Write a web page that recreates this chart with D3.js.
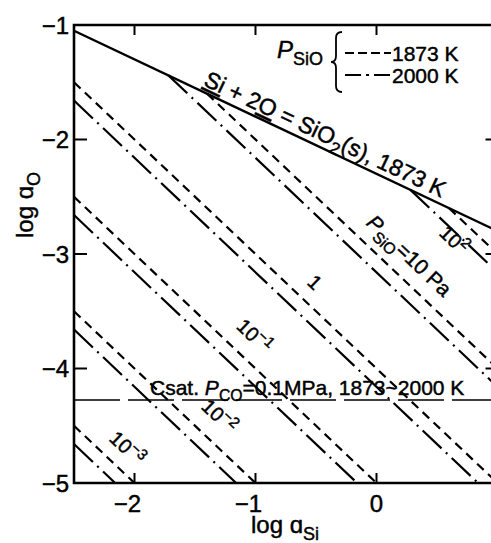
<!DOCTYPE html>
<html>
<head>
<meta charset="utf-8">
<script src="https://cdn.jsdelivr.net/npm/d3@7"></script>
<style>
body { margin: 0; background: #fff; }
svg { display: block; }
text { font-family: "Liberation Sans", Arial, sans-serif; fill: #000; stroke: #000; stroke-width: 0.45px; }
</style>
</head>
<body>
<div id="chart"></div>
<script>
// log P_SiO (Pa) for each pair of lines, and the intercept of log aO + log aSi
var logPSiO = [2, 1, 0, -1, -2, -3];
var c1873 = [-2, -3, -4, -5, -6, -7];
var c2000 = [-2.16, -3.16, -4.16, -5.16, -6.16, -7.16];
// where each line label sits (log aSi) and how far off the 1873 K line (in log units)
var labelAt = [0.6, 0.23, -0.55, -1.05, -1.34, -2.1];
var labelShift = [-0.32, 0.17, 0.16, 0.19, 0.2, 0.16];

// SiO2(s) saturation line, 1873 K
var sio2X = [-2.5, 1.0];
var sio2Y = [-1.05, -2.8];

// carbon saturation, P_CO = 0.1 MPa
var csatY = -4.275;

var xTicks = [-2, -1, 0];
var yTicks = [-1, -2, -3, -4, -5];

var width = 491,
    height = 543;

var svg = d3.select("#chart").append("svg")
    .attr("width", width)
    .attr("height", height);

var x = d3.scaleLinear().domain([-2.5, 1.0]).range([74, 497.5]);
var y = d3.scaleLinear().domain([-5, -1]).range([483, 25]);

// clip the lines to the frame
svg.append("clipPath").attr("id", "plot")
    .append("rect")
    .attr("x", x(-2.5)).attr("y", y(-1))
    .attr("width", x(1.0) - x(-2.5)).attr("height", y(-5) - y(-1));

var line = d3.line()
    .x(function (d) { return x(d[0]); })
    .y(function (d) { return y(d[1]); });

// y of the SiO2 line at a given log aSi
var sio2Slope = (sio2Y[1] - sio2Y[0]) / (sio2X[1] - sio2X[0]);
function sio2At(v) { return sio2Y[0] + sio2Slope * (v - sio2X[0]); }

// a P_SiO line: log aO = c - log aSi, starting on the SiO2 line or the left axis
function pLine(c) {
    var xi = (c - sio2Y[0] + sio2Slope * sio2X[0]) / (1 + sio2Slope);
    var x0 = Math.max(-2.5, xi);
    var x1 = Math.min(1.0, c + 5);
    return [[x0, c - x0], [x1, c - x1]];
}

var g = svg.append("g").attr("clip-path", "url(#plot)");

g.selectAll(".l1873")
    .data(c1873)
    .enter().append("path")
    .attr("class", "l1873")
    .attr("d", function (c) { return line(pLine(c)); })
    .attr("fill", "none")
    .attr("stroke", "#000")
    .attr("stroke-width", 2.2)
    .attr("stroke-dasharray", "9,6");

g.selectAll(".l2000")
    .data(c2000)
    .enter().append("path")
    .attr("class", "l2000")
    .attr("d", function (c) { return line(pLine(c)); })
    .attr("fill", "none")
    .attr("stroke", "#000")
    .attr("stroke-width", 2.2)
    .attr("stroke-dasharray", "26,6,2,6");

// SiO2 saturation
g.append("path")
    .attr("d", line([[sio2X[0], sio2Y[0]], [sio2X[1], sio2Y[1]]]))
    .attr("fill", "none")
    .attr("stroke", "#000")
    .attr("stroke-width", 2.4);

// carbon saturation
g.append("path")
    .attr("d", line([[-2.5, csatY], [1.0, csatY]]))
    .attr("fill", "none")
    .attr("stroke", "#000")
    .attr("stroke-width", 1.6)
    .attr("stroke-dasharray", "46,8");

// frame
var frame = svg.append("g")
    .attr("fill", "none")
    .attr("stroke", "#000")
    .attr("stroke-width", 2.6);
frame.append("path")
    .attr("d", "M" + x(1.0) + "," + y(-1) + "H" + x(-2.5) + "V" + y(-5) + "H" + x(1.0) + "V" + y(-1));

// inward ticks
xTicks.forEach(function (t) {
    frame.append("line").attr("x1", x(t)).attr("x2", x(t)).attr("y1", y(-1)).attr("y2", y(-1) + 10).attr("stroke-width", 2);
    frame.append("line").attr("x1", x(t)).attr("x2", x(t)).attr("y1", y(-5)).attr("y2", y(-5) - 10).attr("stroke-width", 2);
});
yTicks.slice(1, 4).forEach(function (t) {
    frame.append("line").attr("x1", x(-2.5)).attr("x2", x(-2.5) + 13).attr("y1", y(t)).attr("y2", y(t)).attr("stroke-width", 2);
    frame.append("line").attr("x1", x(1.0)).attr("x2", x(1.0) - 12).attr("y1", y(t)).attr("y2", y(t)).attr("stroke-width", 2);
});

// tick labels
svg.selectAll(".ylab")
    .data(yTicks)
    .enter().append("text")
    .attr("class", "ylab")
    .attr("x", 69)
    .attr("y", function (d) { return y(d); })
    .attr("dy", "0.36em")
    .attr("text-anchor", "end")
    .style("font-size", "24px")
    .text(function (d) { return "\u2212" + Math.abs(d); });

svg.selectAll(".xlab")
    .data(xTicks)
    .enter().append("text")
    .attr("class", "xlab")
    .attr("x", function (d) { return x(d) + (d < 0 ? -7 : 0); })
    .attr("y", 512)
    .attr("text-anchor", "middle")
    .style("font-size", "24px")
    .text(function (d) { return d < 0 ? "\u2212" + Math.abs(d) : d; });

// rich text helper: parts with optional italic / sub / sup / underline
function rich(sel, parts, size) {
    var shift = 0;
    parts.forEach(function (p) {
        var ts = sel.append("tspan").text(p.t);
        var target = p.sub ? size * 0.3 : (p.sup ? -size * 0.4 : 0);
        ts.attr("dy", target - shift);
        shift = target;
        ts.style("font-size", ((p.sub || p.sup) ? size * 0.75 : size) + "px");
        if (p.i) ts.style("font-style", "italic");
        if (p.u) ts.style("text-decoration", "underline");
    });
}

// axis titles
var yt = svg.append("text")
    .attr("transform", "translate(33,205) rotate(-90)")
    .attr("text-anchor", "middle");
rich(yt, [{t: "log \u0251"}, {t: "O", sub: true}], 24);

var xt = svg.append("text")
    .attr("x", 285).attr("y", 533)
    .attr("text-anchor", "middle");
rich(xt, [{t: "log \u0251"}, {t: "Si", sub: true}], 24);

// SiO2 label along its line
var sx = x.invert(200);
var ang = Math.atan2(y(sio2Y[1]) - y(sio2Y[0]), x(sio2X[1]) - x(sio2X[0])) * 180 / Math.PI;
var st = svg.append("text")
    .attr("transform", "translate(" + 200 + "," + y(sio2At(sx)) + ") rotate(" + ang + ")")
    .attr("y", -6);
rich(st, [{t: "Si", u: true}, {t: " + 2"}, {t: "O", u: true}, {t: " = SiO"}, {t: "2", sub: true}, {t: "(s), 1873 K"}], 23);

// P_SiO line labels
var pAng = Math.atan2(y(-2) - y(-1), x(1) - x(0)) * 180 / Math.PI;
logPSiO.forEach(function (lp, i) {
    var lx = labelAt[i];
    var ly = c1873[i] + labelShift[i] - lx;
    var t = svg.append("text")
        .attr("transform", "translate(" + x(lx) + "," + y(ly) + ") rotate(" + pAng + ")")
        .attr("text-anchor", "middle")
        .attr("dy", "0.35em");
    var parts;
    if (lp === 1) parts = [{t: "P", i: true}, {t: "SiO", sub: true}, {t: "=10 Pa"}];
    else if (lp === 0) parts = [{t: "1"}];
    else parts = [{t: "10"}, {t: (lp < 0 ? "\u2212" : "") + Math.abs(lp), sup: true}];
    rich(t, parts, lp === 1 ? 21 : 20);
});

// carbon saturation label
var ct = svg.append("text").attr("x", 150).attr("y", y(csatY) - 5);
rich(ct, [{t: "Csat. "}, {t: "P", i: true}, {t: "CO", sub: true}, {t: "=0.1MPa, 1873~2000 K"}], 21);

// legend
var lg = svg.append("text").attr("x", 277).attr("y", 58);
rich(lg, [{t: "P", i: true}, {t: "SiO", sub: true}], 24);

svg.append("path")
    .attr("d", "M342,32 q-6,0 -6,6 v18 q0,6 -5,6 q5,0 5,6 v18 q0,6 6,6")
    .attr("fill", "none")
    .attr("stroke", "#000")
    .attr("stroke-width", 1.8);

svg.append("line").attr("x1", 345).attr("x2", 391).attr("y1", 53).attr("y2", 53)
    .attr("stroke", "#000").attr("stroke-width", 2.2).attr("stroke-dasharray", "9,4");
svg.append("line").attr("x1", 345).attr("x2", 391).attr("y1", 75).attr("y2", 75)
    .attr("stroke", "#000").attr("stroke-width", 2.2).attr("stroke-dasharray", "16,5,3,5");

svg.append("text").attr("x", 392).attr("y", 61).style("font-size", "21px").text("1873 K");
svg.append("text").attr("x", 392).attr("y", 83).style("font-size", "21px").text("2000 K");
</script>
</body>
</html>
